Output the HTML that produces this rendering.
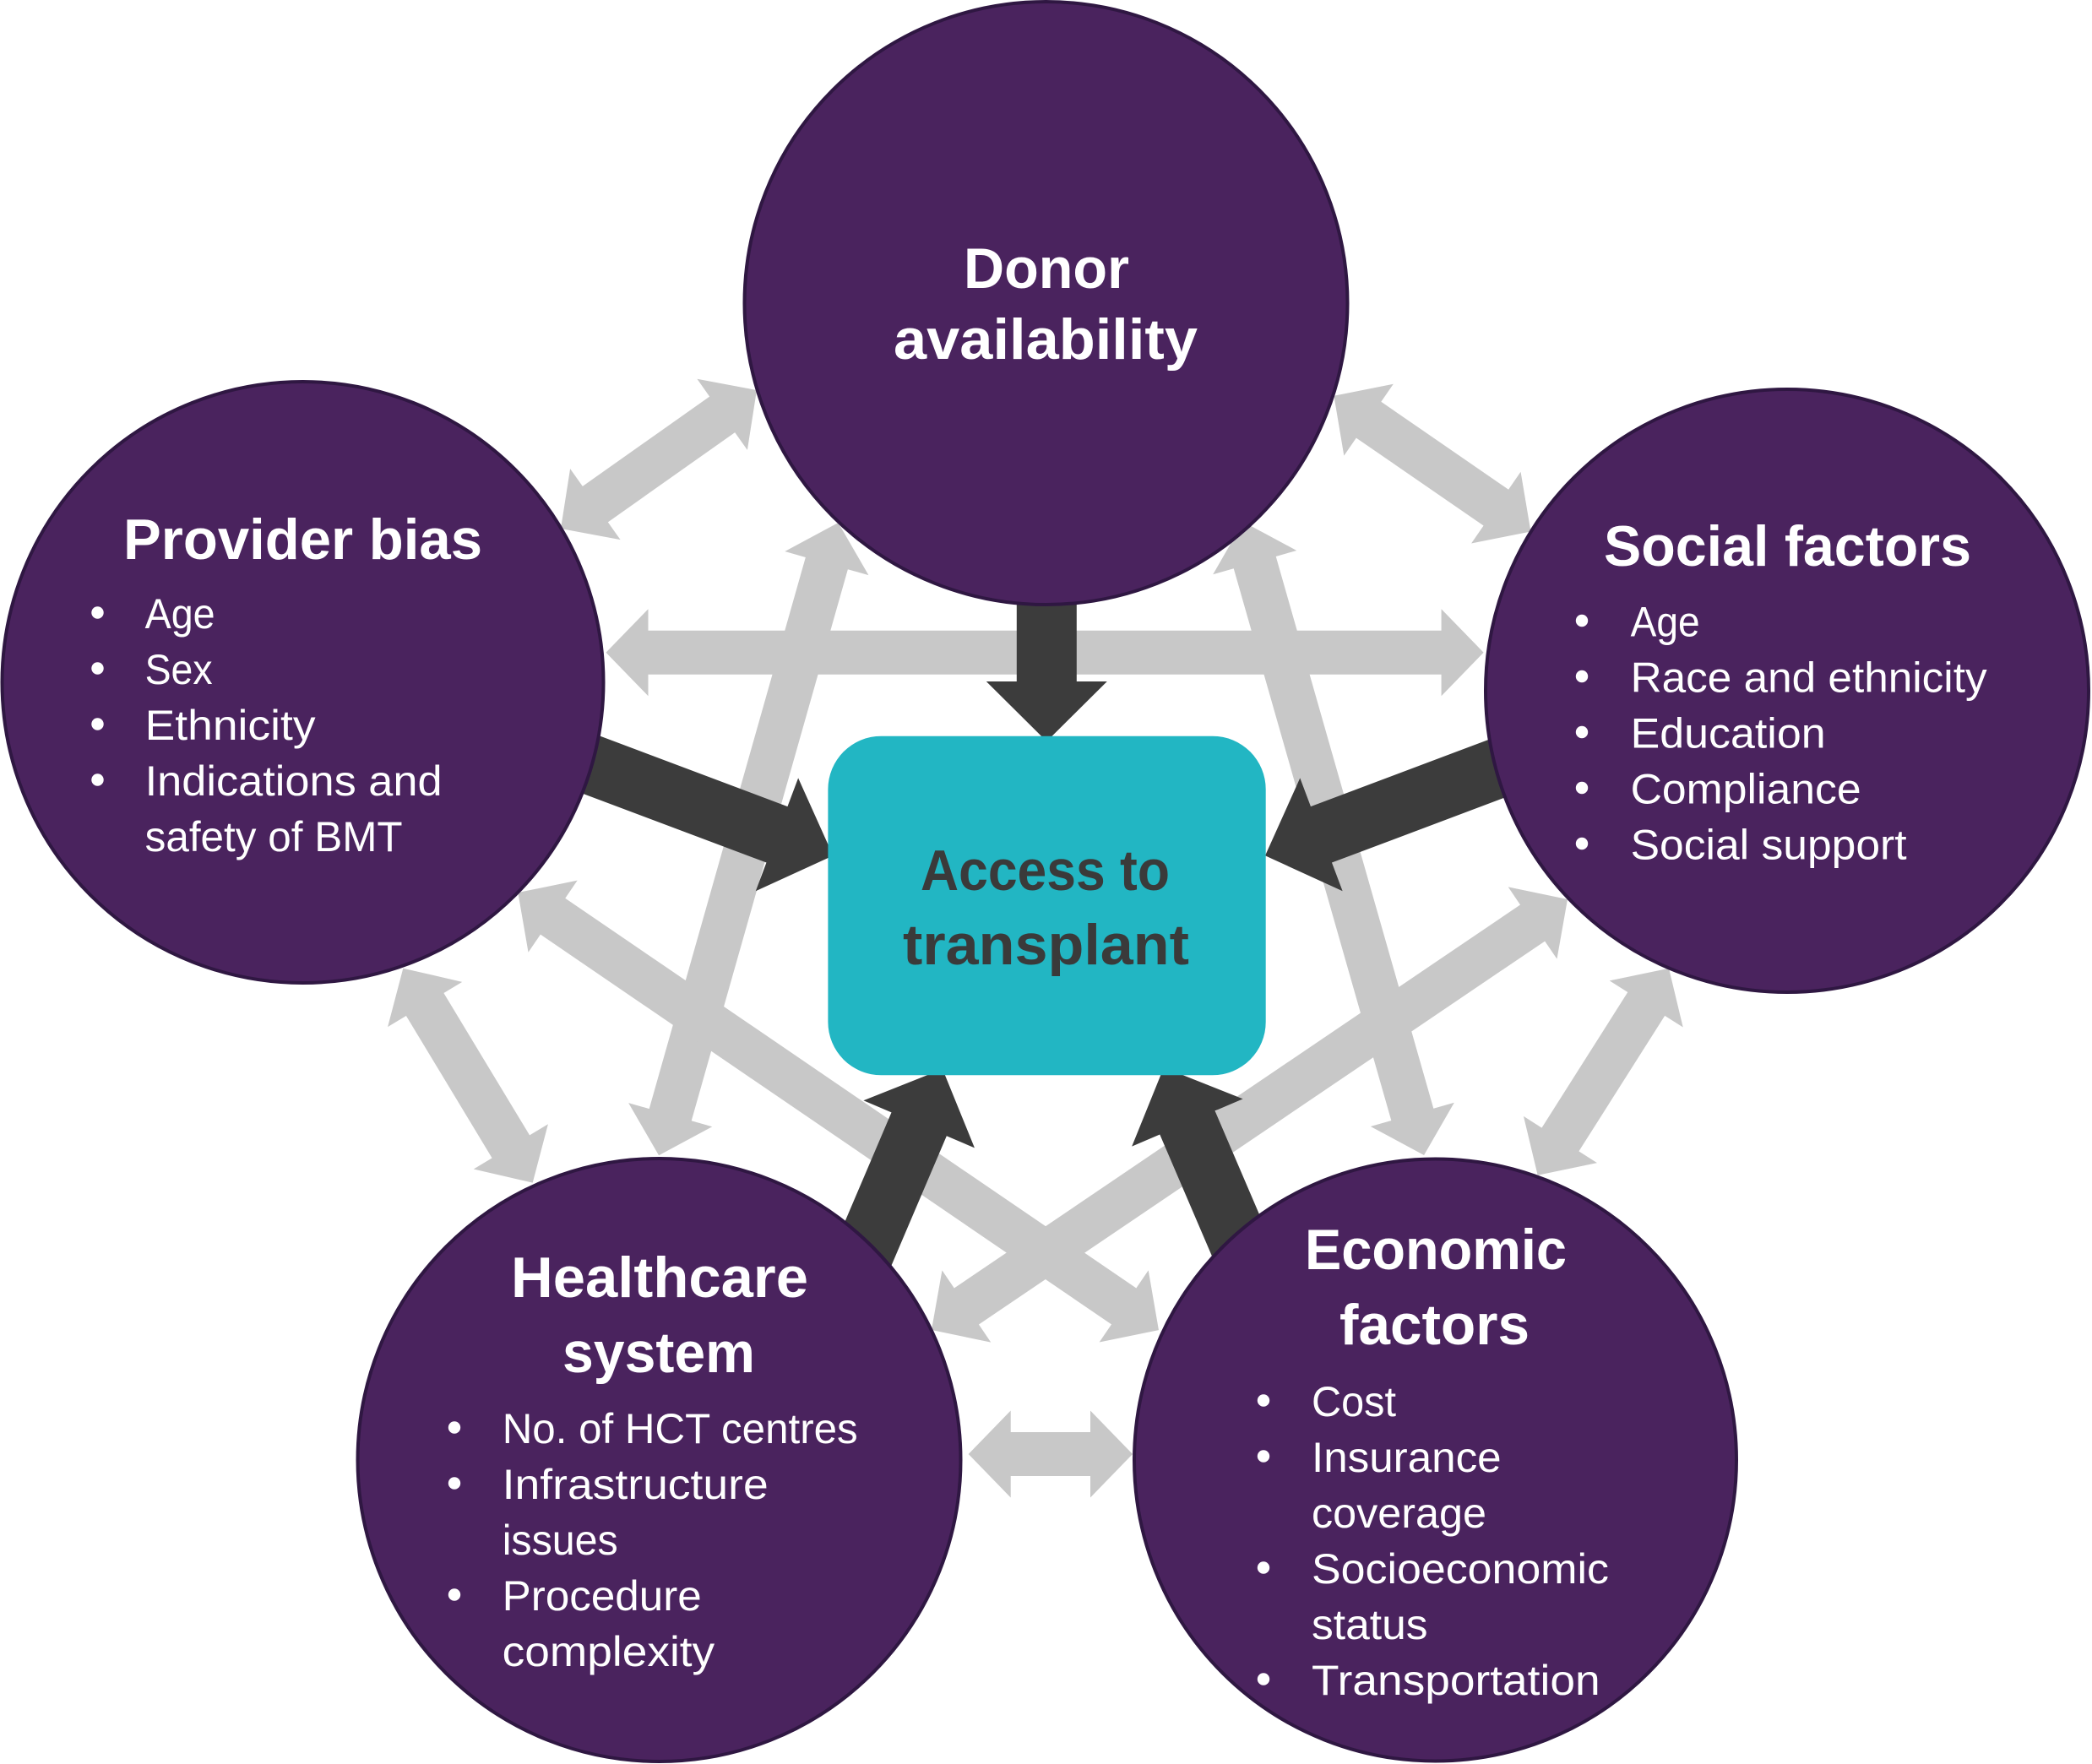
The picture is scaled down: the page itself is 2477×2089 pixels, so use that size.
<!DOCTYPE html>
<html>
<head>
<meta charset="utf-8">
<style>
  html, body { margin: 0; padding: 0; background: #ffffff; }
  svg { display: block; }
  .t { font-family: "Liberation Sans", Arial, sans-serif; font-weight: bold; font-size: 68px; fill: #ffffff; }
  .c { font-family: "Liberation Sans", Arial, sans-serif; font-weight: bold; font-size: 68px; fill: #3a3a3a; }
  .b { font-family: "Liberation Sans", Arial, sans-serif; font-size: 50px; fill: #ffffff; }
</style>
</head>
<body>
<svg width="2477" height="2089" viewBox="0 0 2477 2089" xmlns="http://www.w3.org/2000/svg">
  <rect x="0" y="0" width="2477" height="2089" fill="#ffffff"/>

  <!-- gray double arrows -->
  <g fill="#c8c8c8">
    <polygon transform="translate(664,626) rotate(-35.26)" points="0,0 50,-51.5 50,-26 234.1,-26 234.1,-51.5 284.1,0 234.1,51.5 234.1,26 50,26 50,51.5"/>
    <polygon transform="translate(1579.4,468.8) rotate(34.58)" points="0,0 50,-51.5 50,-26 233.1,-26 233.1,-51.5 283.1,0 233.1,51.5 233.1,26 50,26 50,51.5"/>
    <polygon transform="translate(717.5,772.7)" points="0,0 50,-51.5 50,-26 989.1,-26 989.1,-51.5 1039.1,0 989.1,51.5 989.1,26 50,26 50,51.5"/>
    <polygon transform="translate(477.3,1146.7) rotate(58.87)" points="0,0 50,-51.5 50,-26 246.7,-26 246.7,-51.5 296.7,0 246.7,51.5 246.7,26 50,26 50,51.5"/>
    <polygon transform="translate(1976,1146.7) rotate(122.37)" points="0,0 50,-51.5 50,-26 240.1,-26 240.1,-51.5 290.1,0 240.1,51.5 240.1,26 50,26 50,51.5"/>
    <polygon transform="translate(1146.7,1722)" points="0,0 50,-51.5 50,-26 144.3,-26 144.3,-51.5 194.3,0 144.3,51.5 144.3,26 50,26 50,51.5"/>
    <polygon transform="translate(992.5,619) rotate(105.83)" points="0,0 50,-51.5 50,-26 728.8,-26 728.8,-51.5 778.8,0 728.8,51.5 728.8,26 50,26 50,51.5"/>
    <polygon transform="translate(1472,618) rotate(74.07)" points="0,0 50,-51.5 50,-26 729.9,-26 729.9,-51.5 779.9,0 729.9,51.5 729.9,26 50,26 50,51.5"/>
    <polygon transform="translate(613.3,1057) rotate(34.33)" points="0,0 50,-51.5 50,-26 868.7,-26 868.7,-51.5 918.7,0 868.7,51.5 868.7,26 50,26 50,51.5"/>
    <polygon transform="translate(1856,1065) rotate(145.89)" points="0,0 50,-51.5 50,-26 859.5,-26 859.5,-51.5 909.5,0 859.5,51.5 859.5,26 50,26 50,51.5"/>
  </g>

  <!-- dark arrows -->
  <g fill="#3c3c3c">
    <polygon transform="translate(1239.3,500) rotate(90)" points="0,-35.5 307,-35.5 307,-71.5 378,0 307,71.5 307,35.5 0,35.5"/>
    <polygon transform="translate(612,872.5) rotate(20.61)" points="0,-35.5 329,-35.5 329,-71.5 400,0 329,71.5 329,35.5 0,35.5"/>
    <polygon transform="translate(1872.4,872.5) rotate(159.39)" points="0,-35.5 329,-35.5 329,-71.5 400,0 329,71.5 329,35.5 0,35.5"/>
    <polygon transform="translate(959.2,1634) rotate(-66.92)" points="0,-35.5 329,-35.5 329,-71.5 400,0 329,71.5 329,35.5 0,35.5"/>
    <polygon transform="translate(1535.5,1631.9) rotate(-113.2)" points="0,-35.5 329,-35.5 329,-71.5 400,0 329,71.5 329,35.5 0,35.5"/>
  </g>

  <!-- circles -->
  <g fill="#4a235e" stroke="#2f1742" stroke-width="4">
    <circle cx="1238.5" cy="359" r="357"/>
    <circle cx="358.5" cy="808" r="356"/>
    <circle cx="2116" cy="818" r="357"/>
    <circle cx="780.5" cy="1729" r="357"/>
    <circle cx="1699.5" cy="1729" r="356.5"/>
  </g>

  <!-- center box -->
  <rect x="980.4" y="871.7" width="518.3" height="401.6" rx="63" ry="63" fill="#22b6c3"/>
  <text class="c" x="1090" y="1054" textLength="295" lengthAdjust="spacingAndGlyphs">Access to</text>
  <text class="c" x="1069" y="1142" textLength="339" lengthAdjust="spacingAndGlyphs">transplant</text>

  <!-- Donor availability -->
  <text class="t" x="1141" y="341" textLength="196" lengthAdjust="spacingAndGlyphs">Donor</text>
  <text class="t" x="1058" y="425" textLength="360" lengthAdjust="spacingAndGlyphs">availability</text>

  <!-- Provider bias -->
  <text class="t" x="146" y="662" textLength="425" lengthAdjust="spacingAndGlyphs">Provider bias</text>
  <g fill="#ffffff">
    <circle cx="115.5" cy="725.5" r="7.2"/>
    <circle cx="115.5" cy="791.5" r="7.2"/>
    <circle cx="115.5" cy="857.5" r="7.2"/>
    <circle cx="115.5" cy="923.5" r="7.2"/>
  </g>
  <text class="b" x="171.6" y="744" textLength="83" lengthAdjust="spacingAndGlyphs">Age</text>
  <text class="b" x="171.6" y="810" textLength="80" lengthAdjust="spacingAndGlyphs">Sex</text>
  <text class="b" x="171.6" y="876" textLength="202" lengthAdjust="spacingAndGlyphs">Ethnicity</text>
  <text class="b" x="171.6" y="942" textLength="352" lengthAdjust="spacingAndGlyphs">Indications and</text>
  <text class="b" x="171.6" y="1008" textLength="305" lengthAdjust="spacingAndGlyphs">safety of BMT</text>

  <!-- Social factors -->
  <text class="t" x="1899" y="670" textLength="435" lengthAdjust="spacingAndGlyphs">Social factors</text>
  <g fill="#ffffff">
    <circle cx="1873" cy="735" r="7.2"/>
    <circle cx="1873" cy="801" r="7.2"/>
    <circle cx="1873" cy="867" r="7.2"/>
    <circle cx="1873" cy="933" r="7.2"/>
    <circle cx="1873" cy="999" r="7.2"/>
  </g>
  <text class="b" x="1930.6" y="753.5" textLength="82" lengthAdjust="spacingAndGlyphs">Age</text>
  <text class="b" x="1930.6" y="819.5" textLength="422" lengthAdjust="spacingAndGlyphs">Race and ethnicity</text>
  <text class="b" x="1930.6" y="885.5" textLength="231" lengthAdjust="spacingAndGlyphs">Education</text>
  <text class="b" x="1930.6" y="951.5" textLength="273" lengthAdjust="spacingAndGlyphs">Compliance</text>
  <text class="b" x="1930.6" y="1017.5" textLength="327" lengthAdjust="spacingAndGlyphs">Social support</text>

  <!-- Healthcare system -->
  <text class="t" x="605" y="1536" textLength="352" lengthAdjust="spacingAndGlyphs">Healthcare</text>
  <text class="t" x="666" y="1625" textLength="228" lengthAdjust="spacingAndGlyphs">system</text>
  <g fill="#ffffff">
    <circle cx="538" cy="1690.5" r="7.2"/>
    <circle cx="538" cy="1756.5" r="7.2"/>
    <circle cx="538" cy="1888.5" r="7.2"/>
  </g>
  <text class="b" x="594.7" y="1709" textLength="421" lengthAdjust="spacingAndGlyphs">No. of HCT centres</text>
  <text class="b" x="594.7" y="1775" textLength="315" lengthAdjust="spacingAndGlyphs">Infrastructure</text>
  <text class="b" x="594.7" y="1841" textLength="137" lengthAdjust="spacingAndGlyphs">issues</text>
  <text class="b" x="594.7" y="1907" textLength="236" lengthAdjust="spacingAndGlyphs">Procedure</text>
  <text class="b" x="594.7" y="1973" textLength="251.5" lengthAdjust="spacingAndGlyphs">complexity</text>

  <!-- Economic factors -->
  <text class="t" x="1545" y="1503" textLength="310" lengthAdjust="spacingAndGlyphs">Economic</text>
  <text class="t" x="1586" y="1592" textLength="225" lengthAdjust="spacingAndGlyphs">factors</text>
  <g fill="#ffffff">
    <circle cx="1496" cy="1658.5" r="7.2"/>
    <circle cx="1496" cy="1724.5" r="7.2"/>
    <circle cx="1496" cy="1856.5" r="7.2"/>
    <circle cx="1496" cy="1988.5" r="7.2"/>
  </g>
  <text class="b" x="1553" y="1677" textLength="100" lengthAdjust="spacingAndGlyphs">Cost</text>
  <text class="b" x="1553" y="1743" textLength="224.6" lengthAdjust="spacingAndGlyphs">Insurance</text>
  <text class="b" x="1553" y="1809" textLength="207" lengthAdjust="spacingAndGlyphs">coverage</text>
  <text class="b" x="1553" y="1875" textLength="352" lengthAdjust="spacingAndGlyphs">Socioeconomic</text>
  <text class="b" x="1553" y="1941" textLength="137.6" lengthAdjust="spacingAndGlyphs">status</text>
  <text class="b" x="1553" y="2007" textLength="341.6" lengthAdjust="spacingAndGlyphs">Transportation</text>
</svg>
</body>
</html>
